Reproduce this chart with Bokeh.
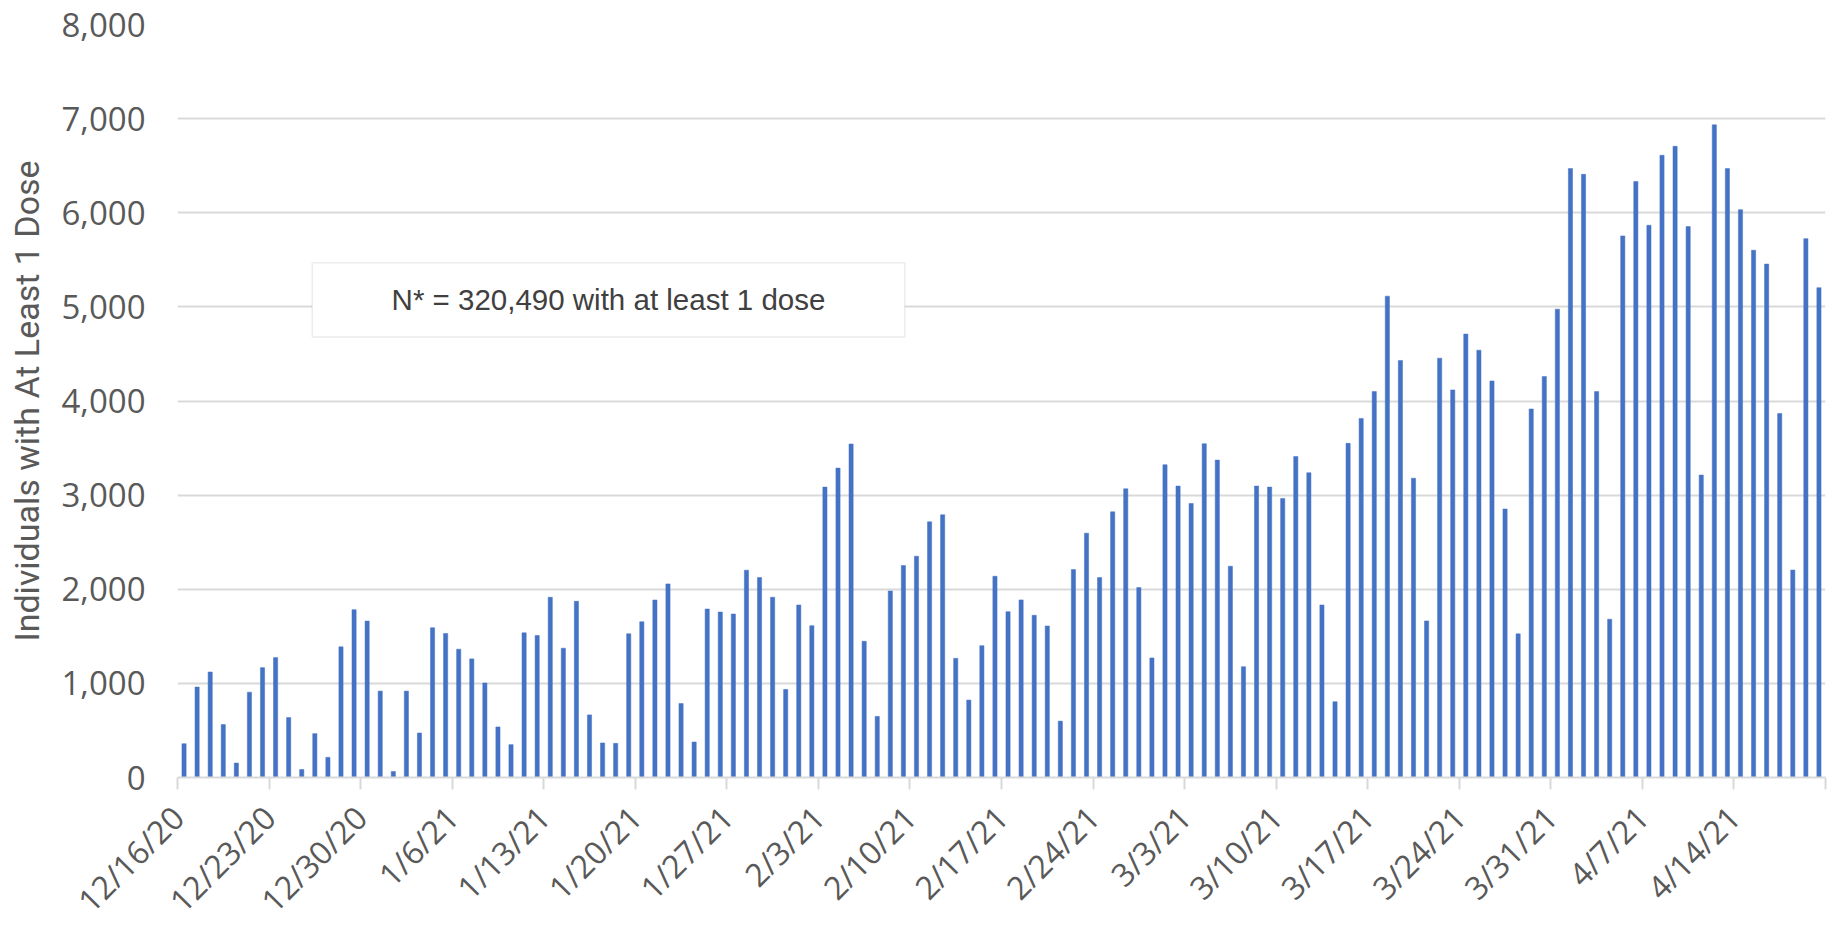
import math
import pandas as pd
from bokeh.plotting import figure
from bokeh.models import (FixedTicker, NumeralTickFormatter, BoxAnnotation, Label,
                          Range1d, ColumnDataSource)
from bokeh.embed import file_html
from bokeh.resources import INLINE

# ---- data ----
start_date = "2020-12-16"
doses = [
    359, 961, 1121, 562, 153, 907, 1167, 1274, 637, 85, 466, 214, 1388, 1783, 1662, 918,
    64, 918, 473, 1591, 1530, 1363, 1260,
    1004, 537, 349, 1537, 1509, 1915, 1374, 1872, 665, 367, 363, 1527, 1655, 1886, 2057,
    786, 377, 1790, 1758, 1737, 2203, 2124,
    1915, 936, 1833, 1613, 3085, 3287, 3543, 1447, 649, 1982, 2252, 2351, 2716, 2791,
    1266, 823, 1401, 2138, 1762, 1887, 1723, 1610,
    599, 2209, 2596, 2124, 2823, 3067, 2018, 1270, 3323, 3096, 2911, 3546, 3372, 2245,
    1177, 3096, 3085, 2965, 3411, 3238, 1833, 805,
    3550, 3815, 4100, 5114, 4431, 3180, 1664, 4455, 4118, 4711, 4540, 4213, 2853, 1526,
    3915, 4261, 4976, 6469, 6408,
    4100, 1682, 5754, 6332, 5867, 6611, 6706, 5853, 3213, 6934, 6469, 6033, 5602, 5455,
    3867, 2204, 5725, 5204,
]
tick_labels = ["12/16/20", "12/23/20", "12/30/20", "1/6/21", "1/13/21", "1/20/21",
               "1/27/21", "2/3/21", "2/10/21", "2/17/21", "2/24/21", "3/3/21",
               "3/10/21", "3/17/21", "3/24/21", "3/31/21", "4/7/21", "4/14/21"]
y_ticks = [0, 1000, 2000, 3000, 4000, 5000, 6000, 7000, 8000]
y_title = "Individuals with At Least 1 Dose"
note_text = "N* = 320,490 with at least 1 dose"

dates = pd.date_range(start_date, periods=len(doses), freq="D")
day_index = [(d - dates[0]).days for d in dates]
src = ColumnDataSource(dict(x=[i + 0.5 for i in day_index], top=doses))

n_days = 7 * len(tick_labels)  # axis spans 18 weeks
p = figure(frame_width=1648, frame_height=753, output_backend="svg",
           toolbar_location=None, x_range=Range1d(0, n_days), y_range=Range1d(0, 8000),
           min_border_left=177, min_border_right=9, min_border_top=24,
           min_border_bottom=146)
p.outline_line_color = None
p.background_fill_color = "white"
p.border_fill_color = "white"

p.vbar(x="x", top="top", width=0.32, source=src, fill_color="#4472C4",
       line_color="#4472C4", line_width=0.5)

# x axis
xt = list(range(0, n_days + 1, 7))
p.xaxis.ticker = FixedTicker(ticks=xt)
overrides = {t: (tick_labels[i] if i < len(tick_labels) else "") for i, t in enumerate(xt)}
p.xaxis.major_label_overrides = overrides
p.xaxis.major_label_orientation = math.pi / 4
p.xaxis.major_label_text_font = "Open Sans"
p.xaxis.major_label_text_font_size = "32px"
p.xaxis.major_label_text_color = "#595959"
p.xaxis.axis_line_color = "#d9d9d9"
p.xaxis.axis_line_width = 2
p.xaxis.major_tick_line_color = "#d9d9d9"
p.xaxis.major_tick_line_width = 2
p.xaxis.major_tick_out = 12
p.xaxis.major_tick_in = 0
p.xaxis.minor_tick_line_color = None
p.xaxis.major_label_standoff = 22
p.xgrid.grid_line_color = None

# y axis
p.yaxis.ticker = FixedTicker(ticks=y_ticks)
p.yaxis.formatter = NumeralTickFormatter(format="0,0")
p.yaxis.major_label_text_font = "Open Sans"
p.yaxis.major_label_text_font_size = "33px"
p.yaxis.major_label_text_color = "#595959"
p.yaxis.axis_line_color = None
p.yaxis.major_tick_line_color = None
p.yaxis.minor_tick_line_color = None
p.yaxis.major_label_standoff = 26
p.yaxis.axis_label = y_title
p.yaxis.axis_label_text_font = "Roboto"
p.yaxis.axis_label_text_font_size = "34px"
p.yaxis.axis_label_text_font_style = "normal"
p.yaxis.axis_label_text_color = "#595959"
p.yaxis.axis_label_standoff = 11
p.ygrid.grid_line_color = "#d9d9d9"
p.ygrid.grid_line_width = 2

# annotation box
p.add_layout(BoxAnnotation(left=10.3, right=55.6, bottom=4680, top=5470,
                           fill_color="white", fill_alpha=1.0,
                           line_color="#bfbfbf", line_width=1.5))
p.add_layout(Label(x=32.95, y=5075, text=note_text, text_align="center",
                   text_baseline="middle", text_font="Liberation Sans",
                   text_font_size="29.5px", text_color="#404040"))

open("out.html", "w").write(file_html(p, INLINE))
